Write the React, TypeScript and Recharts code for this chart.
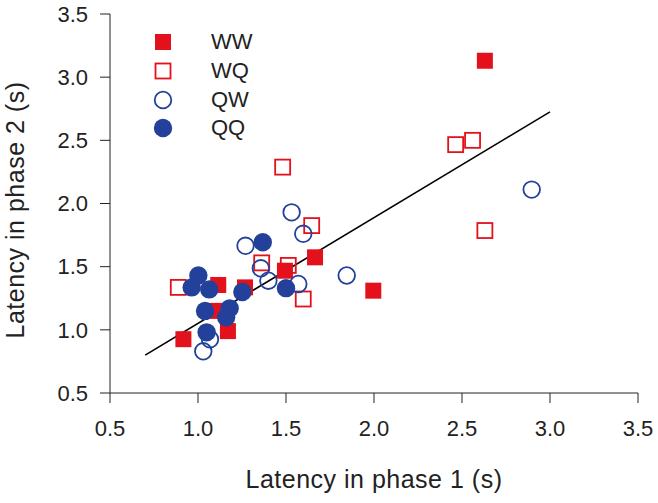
import React from 'react';
import { ScatterChart, Scatter, XAxis, YAxis, ReferenceLine, Legend } from 'recharts';

const RED = '#e3111c';
const BLUE = '#23419a';
const INK = '#222';
const FONT = '"Liberation Sans", Arial, Helvetica, sans-serif';

// latency pairs: phase 1 (x) vs phase 2 (y), seconds
const ww = [
  { x: 0.917, y: 0.926 },
  { x: 1.106, y: 1.15 },
  { x: 1.115, y: 1.355 },
  { x: 1.267, y: 1.336 },
  { x: 1.17, y: 0.99 },
  { x: 1.494, y: 1.468 },
  { x: 1.665, y: 1.574 },
  { x: 1.996, y: 1.31 },
  { x: 2.63, y: 3.13 },
];

const wq = [
  { x: 0.888, y: 1.336 },
  { x: 1.362, y: 1.53 },
  { x: 1.513, y: 1.51 },
  { x: 1.598, y: 1.244 },
  { x: 1.646, y: 1.825 },
  { x: 1.481, y: 2.288 },
  { x: 2.464, y: 2.466 },
  { x: 2.56, y: 2.5 },
  { x: 2.63, y: 1.786 },
];

const qw = [
  { x: 1.068, y: 0.926 },
  { x: 1.03, y: 0.83 },
  { x: 1.27, y: 1.665 },
  { x: 1.357, y: 1.487 },
  { x: 1.4, y: 1.389 },
  { x: 1.57, y: 1.363 },
  { x: 1.532, y: 1.93 },
  { x: 1.598, y: 1.76 },
  { x: 1.845, y: 1.43 },
  { x: 2.896, y: 2.11 },
];

const qq = [
  { x: 1.002, y: 1.43 },
  { x: 0.964, y: 1.336 },
  { x: 1.064, y: 1.32 },
  { x: 1.04, y: 1.15 },
  { x: 1.18, y: 1.17 },
  { x: 1.16, y: 1.1 },
  { x: 1.252, y: 1.3 },
  { x: 1.049, y: 0.98 },
  { x: 1.368, y: 1.693 },
  { x: 1.5, y: 1.33 },
];

// regression line end points
const fitLine = [
  { x: 0.7, y: 0.8 },
  { x: 3.0, y: 2.725 },
];

const ticks = [0.5, 1.0, 1.5, 2.0, 2.5, 3.0, 3.5];
const groups = ['WW', 'WQ', 'QW', 'QQ'];

const FilledSquare = (p: any) => (
  <rect x={p.cx - 8} y={p.cy - 8} width={16} height={16} fill={RED} />
);
const OpenSquare = (p: any) => (
  <rect x={p.cx - 7.5} y={p.cy - 7.5} width={15} height={15} fill="none" stroke={RED} strokeWidth={1.8} />
);
const OpenCircle = (p: any) => (
  <circle cx={p.cx} cy={p.cy} r={8.3} fill="none" stroke={BLUE} strokeWidth={1.8} />
);
const FilledCircle = (p: any) => <circle cx={p.cx} cy={p.cy} r={9.2} fill={BLUE} />;

const markers = [FilledSquare, OpenSquare, OpenCircle, FilledCircle];

const LegendBox = () => (
  <div style={{ fontFamily: FONT, fontSize: 22, color: INK }}>
    {groups.map((g, i) => {
      const M = markers[i];
      return (
        <div key={g} style={{ display: 'flex', alignItems: 'center', height: 28.7 }}>
          <svg width={20} height={20} style={{ display: 'block' }}>
            <M cx={10} cy={10} />
          </svg>
          <span style={{ marginLeft: 38, lineHeight: 1 }}>{g}</span>
        </div>
      );
    })}
  </div>
);

const YTitle = () => (
  <text
    x={24}
    y={210}
    transform="rotate(-90 24 210)"
    textAnchor="middle"
    fontSize={25}
    letterSpacing={0.5}
    fill={INK}
    fontFamily={FONT}
  >
    Latency in phase 2 (s)
  </text>
);

export default function App() {
  return (
    <div style={{ position: 'absolute', left: 0, top: 0, width: 658, height: 503 }}>
      <ScatterChart width={658} height={503} margin={{ top: 14, right: 20, left: 0, bottom: 0 }}>
        <XAxis
          type="number"
          dataKey="x"
          domain={[0.5, 3.5]}
          ticks={ticks}
          tickFormatter={(v: number) => v.toFixed(1)}
          height={110}
          tickSize={10}
          tickMargin={17}
          stroke={INK}
          tick={{ fontSize: 22, fill: INK, fontFamily: FONT }}
          allowDataOverflow
          label={{
            value: 'Latency in phase 1 (s)',
            position: 'insideBottom',
            offset: 15,
            fontSize: 25,
            letterSpacing: 0.5,
            fill: INK,
            fontFamily: FONT,
          }}
        />
        <YAxis
          type="number"
          dataKey="y"
          domain={[0.5, 3.5]}
          ticks={ticks}
          tickFormatter={(v: number) => v.toFixed(1)}
          width={110}
          tickSize={10}
          tickMargin={12}
          stroke={INK}
          tick={{ fontSize: 22, fill: INK, fontFamily: FONT }}
          allowDataOverflow
          label={{ content: () => <YTitle /> }}
        />
        <ReferenceLine
          segment={fitLine}
          stroke="#000"
          strokeWidth={1.6}
          ifOverflow="visible"
        />
        <Scatter name="WW" data={ww} shape={FilledSquare} isAnimationActive={false} />
        <Scatter name="WQ" data={wq} shape={OpenSquare} isAnimationActive={false} />
        <Scatter name="QW" data={qw} shape={OpenCircle} isAnimationActive={false} />
        <Scatter name="QQ" data={qq} shape={FilledCircle} isAnimationActive={false} />
        <Legend
          layout="vertical"
          align="center"
          verticalAlign="middle"
          content={() => <LegendBox />}
          wrapperStyle={{ top: 28, left: 153, width: 120, height: 120 }}
        />
      </ScatterChart>
    </div>
  );
}
